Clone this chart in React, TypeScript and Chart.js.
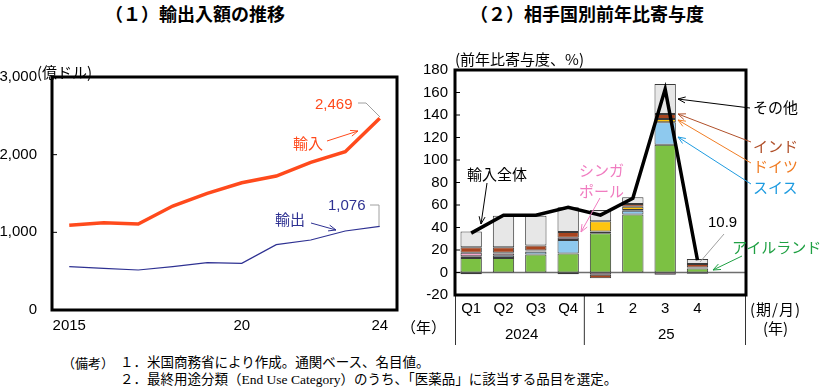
import React, { useEffect, useRef } from "react";
import { Chart, registerables } from "chart.js";

Chart.register(...registerables);

const NUM_FONT = '"Liberation Sans Narrow", "Liberation Sans", "DejaVu Sans Condensed", sans-serif';
const JP_FONT = '"Noto Sans CJK JP", "Noto Sans", sans-serif';
const SERIF_FONT = '"Liberation Serif", "Noto Sans CJK JP", serif';

// ---- (1) 輸出入額の推移 ----
const years = ["2015", "2016", "2017", "2018", "2019", "2020", "2021", "2022", "2023", "2024"];
const yearTickLabels = ["2015", "", "", "", "", "20", "", "", "", "24"];
const importValues = [1090, 1124, 1107, 1339, 1502, 1639, 1725, 1901, 2038, 2469];
const exportValues = [558, 537, 515, 558, 609, 601, 841, 901, 1017, 1076];

// ---- (2) 相手国別前年比寄与度 ----
const periods = ["Q1", "Q2", "Q3", "Q4", "1", "2", "3", "4", ""];
const ireland = [13, 13, 16, 17, 35, 51.5, 113.5, 3.5, null];
const switzerland = [1.5, 2, 2.5, 12, 1.5, 3.5, 20, 1, null];
const singapore = [3, 2, 0.5, 2, -2, 0.5, -2, -1, null];
const germany = [-1.5, 0.5, 0.5, -1.5, 9, 3, 3, 0, null];
const india = [5, 5, 4.5, 5, -3, 2.5, 4.5, 3, null];
const others = [14, 28, 26.5, 22, 10, 6, 26.5, 4.5, null];
const totalContribution = [35, 51, 51, 58, 51, 66, 163, 10.9, null];

const RED = "#FF4A1C";
const NAVY = "#2E3192";
const GREEN = "#7CC143";
const SWISS = "#8EC9EE";
const PINK = "#F6A8CF";
const GERMANY = "#FFC50F";
const INDIA = "#A8451F";
const OTHERS = "#E7E7E7";

function arrow(x1: number, y1: number, x2: number, y2: number, head = 8, deg = 22) {
  const a = Math.atan2(y2 - y1, x2 - x1);
  const r = (deg * Math.PI) / 180;
  const hx1 = x2 - head * Math.cos(a - r);
  const hy1 = y2 - head * Math.sin(a - r);
  const hx2 = x2 - head * Math.cos(a + r);
  const hy2 = y2 - head * Math.sin(a + r);
  return `M${x1},${y1} L${x2},${y2} M${hx1},${hy1} L${x2},${y2} L${hx2},${hy2}`;
}

function Label(props: { x: number; y: number; text: string; color?: string; size?: number; font?: string; bold?: boolean; ls?: number }) {
  const { x, y, text, color = "#000", size = 15, font = JP_FONT, bold = false, ls = 0 } = props;
  return (
    <div
      style={{
        position: "absolute",
        left: x,
        top: y,
        transform: "translateY(-50%)",
        color,
        fontSize: size,
        fontFamily: font,
        fontWeight: bold ? 700 : 400,
        whiteSpace: "nowrap",
        lineHeight: 1,
        letterSpacing: ls,
      }}
    >
      {text}
    </div>
  );
}

export default function App() {
  const leftRef = useRef<HTMLCanvasElement | null>(null);
  const rightRef = useRef<HTMLCanvasElement | null>(null);

  useEffect(() => {
    Chart.defaults.font.family = NUM_FONT;
    const tickFont = { family: NUM_FONT, size: 15 };

    const leftFrame = {
      id: "leftFrame",
      afterDraw(chart: any) {
        const { ctx, chartArea: a, scales } = chart;
        ctx.save();
        ctx.strokeStyle = "#000";
        ctx.lineWidth = 1;
        [1000, 2000].forEach((v) => {
          const y = scales.y.getPixelForValue(v);
          ctx.beginPath();
          ctx.moveTo(a.left, y);
          ctx.lineTo(a.left + 5, y);
          ctx.stroke();
        });
        ctx.lineWidth = 3;
        ctx.strokeRect(a.left, a.top, a.right - a.left, a.bottom - a.top);
        ctx.restore();
      },
    };

    const left = new Chart(leftRef.current as HTMLCanvasElement, {
      type: "line",
      data: {
        labels: years,
        datasets: [
          { label: "輸入", data: importValues, borderColor: RED, borderWidth: 3.5, pointRadius: 0, tension: 0 },
          { label: "輸出", data: exportValues, borderColor: NAVY, borderWidth: 1.2, pointRadius: 0, tension: 0 },
        ],
      },
      options: {
        animation: false,
        responsive: false,
        maintainAspectRatio: false,
        layout: { padding: { top: 37, right: 13, left: 0, bottom: 0 } },
        plugins: { legend: { display: false }, tooltip: { enabled: false } },
        scales: {
          x: {
            type: "category",
            offset: true,
            grid: { display: false, drawTicks: false },
            border: { display: false },
            ticks: {
              autoSkip: false,
              maxRotation: 0,
              padding: 7,
              color: "#000",
              font: tickFont,
              callback: (_v: any, i: number) => yearTickLabels[i],
            },
            afterFit: (s: any) => {
              s.height = 30;
            },
          },
          y: {
            min: 0,
            max: 3000,
            grid: { display: false, drawTicks: false },
            border: { display: false },
            ticks: {
              stepSize: 1000,
              padding: 15,
              color: "#000",
              font: tickFont,
              callback: (v: any) => Number(v).toLocaleString("en-US"),
            },
            afterFit: (s: any) => {
              s.width = 52;
            },
          },
        },
      },
      plugins: [leftFrame],
    } as any);

    const rightDecor = {
      id: "rightDecor",
      beforeDatasetsDraw(chart: any) {
        const { ctx, chartArea: a, scales } = chart;
        const y0 = scales.y.getPixelForValue(0);
        ctx.save();
        ctx.strokeStyle = "#6E6E6E";
        ctx.lineWidth = 1.5;
        ctx.beginPath();
        ctx.moveTo(a.left, y0);
        ctx.lineTo(a.right, y0);
        ctx.stroke();
        ctx.restore();
      },
      afterDraw(chart: any) {
        const { ctx, chartArea: a, scales } = chart;
        ctx.save();
        ctx.strokeStyle = "#000";
        ctx.lineWidth = 1;
        for (let v = -20; v <= 180; v += 20) {
          const y = scales.y.getPixelForValue(v);
          ctx.beginPath();
          ctx.moveTo(a.left, y);
          ctx.lineTo(a.left + 5, y);
          ctx.stroke();
        }
        const sep = (scales.x.getPixelForValue(3) + scales.x.getPixelForValue(4)) / 2;
        ctx.strokeStyle = "#333";
        ctx.lineWidth = 1;
        [a.left + 0.5, sep, a.right - 0.5].forEach((x: number) => {
          ctx.beginPath();
          ctx.moveTo(x, a.bottom);
          ctx.lineTo(x, a.bottom + 50);
          ctx.stroke();
        });
        ctx.lineWidth = 3;
        ctx.strokeStyle = "#000";
        ctx.strokeRect(a.left, a.top, a.right - a.left, a.bottom - a.top);
        ctx.restore();
      },
    };

    const barDs = (label: string, data: (number | null)[], color: string) => ({
      type: "bar",
      label,
      data,
      backgroundColor: color,
      borderColor: "#3A3A3A",
      borderWidth: 1,
      borderSkipped: false,
      order: 1,
      categoryPercentage: 1,
      barPercentage: 0.66,
    });

    const right = new Chart(rightRef.current as HTMLCanvasElement, {
      type: "bar",
      data: {
        labels: periods,
        datasets: [
          {
            type: "line",
            label: "輸入全体",
            data: totalContribution,
            borderColor: "#000",
            borderWidth: 3.5,
            pointRadius: 0,
            tension: 0,
            order: 0,
            stack: "total",
          },
          barDs("アイルランド", ireland, GREEN),
          barDs("スイス", switzerland, SWISS),
          barDs("シンガポール", singapore, PINK),
          barDs("ドイツ", germany, GERMANY),
          barDs("インド", india, INDIA),
          barDs("その他", others, OTHERS),
        ],
      },
      options: {
        animation: false,
        responsive: false,
        maintainAspectRatio: false,
        layout: { padding: { top: 30, right: 76, left: 0, bottom: 0 } },
        plugins: { legend: { display: false }, tooltip: { enabled: false } },
        scales: {
          x: {
            stacked: true,
            offset: true,
            grid: { display: false, drawTicks: false },
            border: { display: false },
            ticks: { autoSkip: false, maxRotation: 0, padding: 5, color: "#000", font: tickFont },
            afterFit: (s: any) => {
              s.height = 55;
            },
          },
          y: {
            stacked: true,
            min: -20,
            max: 180,
            grid: { display: false, drawTicks: false },
            border: { display: false },
            ticks: { stepSize: 20, padding: 7, color: "#000", font: tickFont },
            afterFit: (s: any) => {
              s.width = 45;
            },
          },
        },
      },
      plugins: [rightDecor],
    } as any);

    return () => {
      left.destroy();
      right.destroy();
    };
  }, []);

  return (
    <div
      style={{
        position: "absolute",
        left: 0,
        top: 0,
        width: 822,
        height: 388,
        background: "#fff",
        overflow: "hidden",
      }}
    >
      <canvas ref={leftRef} width={410} height={300} style={{ position: "absolute", left: 0, top: 40, width: 410, height: 300 }} />
      <canvas ref={rightRef} width={412} height={310} style={{ position: "absolute", left: 410, top: 40, width: 412, height: 310 }} />

      {/* titles */}
      <Label x={105} y={13} text="（１）輸出入額の推移" size={18} bold />
      <Label x={470} y={13} text="（２）相手国別前年比寄与度" size={18} bold />

      {/* left chart texts */}
      <Label x={37} y={71} text="(億ドル)" size={15} />
      <Label x={315} y={103} text="2,469" color={RED} size={15} font={NUM_FONT} />
      <Label x={293} y={142} text="輸入" color={RED} size={15} />
      <Label x={328} y={204} text="1,076" color={NAVY} size={15} font={NUM_FONT} />
      <Label x={275} y={218} text="輸出" color={NAVY} size={15} />
      <Label x={401} y={326} text="（年）" size={15} />

      {/* right chart texts */}
      <Label x={455} y={58} text="(前年比寄与度、%)" size={15} />
      <Label x={467} y={173} text="輸入全体" size={15} />
      <Label x={579} y={169} text="シンガ" color="#F07CC0" size={15} />
      <Label x={579} y={190} text="ポール" color="#F07CC0" size={15} />
      <Label x={753} y={106} text="その他" size={15} />
      <Label x={753} y={145} text="インド" color="#B0502A" size={15} />
      <Label x={753} y={165} text="ドイツ" color="#F07D24" size={15} />
      <Label x={753} y={186} text="スイス" color="#1E9BE0" size={15} />
      <Label x={708} y={221} text="10.9" size={15} font={NUM_FONT} />
      <Label x={732} y={246} text="アイルランド" color="#1FA043" size={15} />
      <Label x={505} y={333} text="2024" size={15} font={NUM_FONT} />
      <Label x={658} y={333} text="25" size={15} font={NUM_FONT} />
      <Label x={750} y={308} text="(期/月)" size={15} ls={1} />
      <Label x={763} y={327} text="(年)" size={15} />

      {/* footnotes */}
      <Label x={62} y={363} text="（備考）" size={13} font={SERIF_FONT} />
      <Label x={120} y={363} text="１．米国商務省により作成。通関ベース、名目値。" size={13.5} font={SERIF_FONT} />
      <Label x={120} y={380} text="２．最終用途分類（End Use Category）のうち、「医薬品」に該当する品目を選定。" size={13.5} font={SERIF_FONT} />

      <svg width={822} height={388} style={{ position: "absolute", left: 0, top: 0, pointerEvents: "none" }}>
        <g fill="none" strokeWidth={1}>
          <path d="M358,103 L366,103 L380,117" stroke="#A0A0A0" />
          <path d={arrow(327, 141, 358, 131)} stroke={RED} />
          <path d="M370,205 L379,205 L379,226" stroke="#A0A0A0" />
          <path d={arrow(311, 223, 336, 230)} stroke={NAVY} />

          <path d={arrow(487, 183, 481, 224)} stroke="#000" />
          <path d={arrow(600, 198, 581, 232)} stroke="#F07CC0" />
          <path d={arrow(750, 108, 678, 99)} stroke="#000" />
          <path d={arrow(751, 142, 678, 114)} stroke="#B0502A" />
          <path d={arrow(751, 163, 678, 120)} stroke="#F07D24" />
          <path d={arrow(751, 184, 678, 137)} stroke="#1E9BE0" />
          <path d="M724,234 L700,262" stroke="#A0A0A0" />
          <path d={arrow(742, 256, 713, 270)} stroke="#1FA043" />
        </g>
      </svg>
    </div>
  );
}
